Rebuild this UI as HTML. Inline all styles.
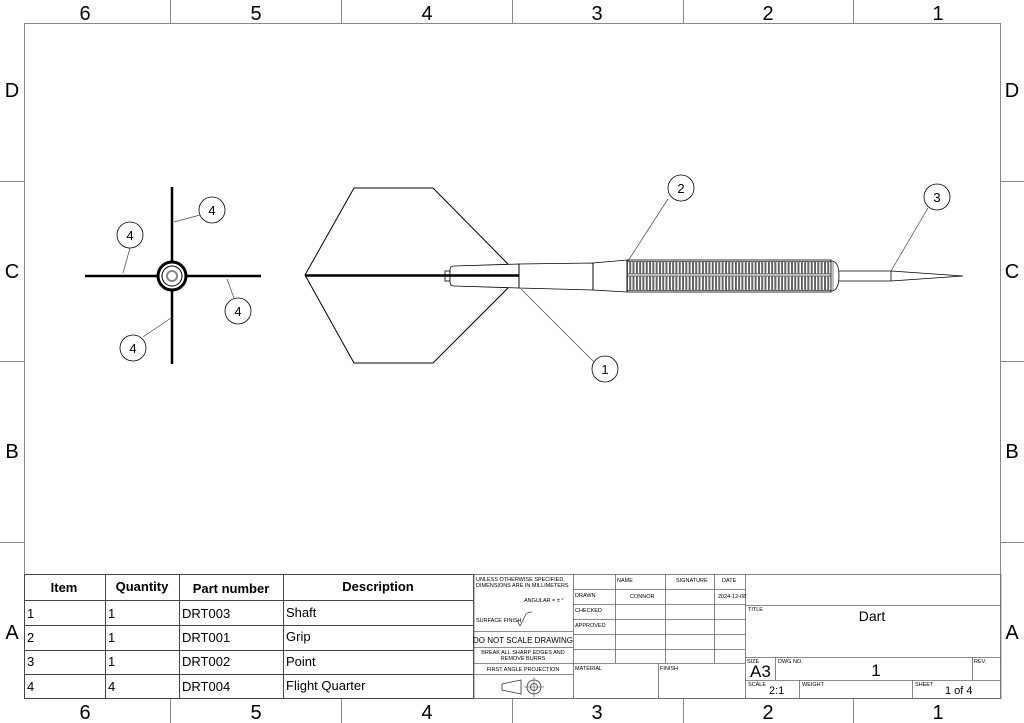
<!DOCTYPE html>
<html><head><meta charset="utf-8"><style>
body{margin:0;background:#fff}
svg{display:block}
text{font-family:"Liberation Sans",sans-serif;fill:#000}
</style></head><body>
<svg width="1024" height="723" viewBox="0 0 1024 723" xmlns="http://www.w3.org/2000/svg">
<defs>
<pattern id="kn" x="627" y="260" width="3.3" height="32" patternUnits="userSpaceOnUse">
<rect x="0.4" y="1.5" width="2.3" height="12.5" fill="none" stroke="#222" stroke-width="0.7"/>
<rect x="0.4" y="16" width="2.3" height="14.5" fill="none" stroke="#222" stroke-width="0.7"/>
</pattern>
</defs>
<g stroke="#888" stroke-width="1" fill="none">
<rect x="24.5" y="23.5" width="976" height="675"/>
<line x1="170.5" y1="0" x2="170.5" y2="23"/><line x1="341.5" y1="0" x2="341.5" y2="23"/><line x1="512.5" y1="0" x2="512.5" y2="23"/><line x1="683.5" y1="0" x2="683.5" y2="23"/><line x1="853.5" y1="0" x2="853.5" y2="23"/>
<line x1="170.5" y1="699" x2="170.5" y2="723"/><line x1="341.5" y1="699" x2="341.5" y2="723"/><line x1="512.5" y1="699" x2="512.5" y2="723"/><line x1="683.5" y1="699" x2="683.5" y2="723"/><line x1="853.5" y1="699" x2="853.5" y2="723"/>
<line x1="0" y1="181.5" x2="24" y2="181.5"/><line x1="0" y1="361.5" x2="24" y2="361.5"/><line x1="0" y1="542.5" x2="24" y2="542.5"/>
<line x1="1001" y1="181.5" x2="1024" y2="181.5"/><line x1="1001" y1="361.5" x2="1024" y2="361.5"/><line x1="1001" y1="542.5" x2="1024" y2="542.5"/>
</g>
<g font-size="20" text-anchor="middle">
<text x="85" y="20">6</text><text x="256" y="20">5</text><text x="427" y="20">4</text><text x="597" y="20">3</text><text x="768" y="20">2</text><text x="938" y="20">1</text>
<text x="85" y="719">6</text><text x="256" y="719">5</text><text x="427" y="719">4</text><text x="597" y="719">3</text><text x="768" y="719">2</text><text x="938" y="719">1</text>
<text x="12" y="97">D</text><text x="12" y="278">C</text><text x="12" y="458">B</text><text x="12" y="639">A</text>
<text x="1012" y="97">D</text><text x="1012" y="278">C</text><text x="1012" y="458">B</text><text x="1012" y="639">A</text>
</g>

<g stroke="#000" fill="none">
<line x1="172" y1="187" x2="172" y2="364" stroke-width="2.5"/>
<line x1="85" y1="276" x2="261" y2="276" stroke-width="2.5"/>
<circle cx="172" cy="276" r="14" fill="#fff" stroke-width="3"/>
<circle cx="172" cy="276" r="10" stroke-width="1"/>
<circle cx="172" cy="276" r="5" stroke="#888" stroke-width="2"/>
</g>
<g stroke="#444" stroke-width="0.7" fill="none">
<line x1="200" y1="215" x2="174" y2="222"/><line x1="130" y1="248" x2="123" y2="273"/>
<line x1="234" y1="298" x2="227" y2="279"/><line x1="143" y1="337" x2="171" y2="318"/>
<line x1="668" y1="199" x2="628" y2="261"/><line x1="594" y1="362" x2="521" y2="289"/>
<line x1="928" y1="208" x2="891" y2="271"/>
</g>
<g stroke="#000" stroke-width="0.8" fill="#fff">
<circle cx="212" cy="210" r="13"/><circle cx="130" cy="235" r="13"/><circle cx="238" cy="311" r="13"/><circle cx="133" cy="348" r="13"/>
<circle cx="681" cy="188" r="13"/><circle cx="605" cy="369" r="13"/><circle cx="937" cy="197" r="13"/>
</g>
<g font-size="13" text-anchor="middle">
<text x="212" y="215">4</text><text x="130" y="240">4</text><text x="238" y="316">4</text><text x="133" y="353">4</text>
<text x="681" y="193">2</text><text x="605" y="374">1</text><text x="937" y="202">3</text>
</g>

<g stroke="#000" stroke-width="1" fill="none">
<polyline points="509,265 433,188 354,188 305,275 354,363 433,363 509,287"/>
<rect x="445" y="271" width="5" height="10" fill="#fff" stroke-width="0.8"/>
<path d="M454,266 L519,264 L519,288 L454,286 Q450,286 450,282 L450,270 Q450,266 454,266Z" fill="#fff" stroke-width="0.8"/>
<line x1="305" y1="275.5" x2="519" y2="275.5" stroke-width="2.5"/>
<polygon points="519,264 593,263 593,290 519,288" stroke-width="0.8"/>
<polygon points="593,263 627,260 627,292 593,290" stroke-width="0.8"/>
<rect x="627" y="260" width="204" height="32" fill="url(#kn)" stroke-width="0.8"/>
<path d="M831,261 L832,261 Q839,262 839,276 Q839,290 832,291 L831,291" stroke-width="0.8"/>
<line x1="833" y1="262" x2="833" y2="290" stroke-width="0.5"/>
<polyline points="839,271 891,271 963,276 891,281 839,281" stroke-width="0.8"/>
<line x1="891" y1="271" x2="891" y2="281" stroke-width="0.8"/>
</g>

<g stroke="#444" stroke-width="1" fill="none">
<rect x="24.5" y="574.5" width="449" height="124"/>
<line x1="24" y1="600.5" x2="474" y2="600.5"/><line x1="24" y1="625.5" x2="474" y2="625.5"/><line x1="24" y1="650.5" x2="474" y2="650.5"/><line x1="24" y1="674.5" x2="474" y2="674.5"/>
<line x1="105.5" y1="574" x2="105.5" y2="698"/><line x1="179.5" y1="574" x2="179.5" y2="698"/><line x1="283.5" y1="574" x2="283.5" y2="698"/>
</g>
<g font-size="13">
<g font-weight="bold" text-anchor="middle"><text x="64" y="592">Item</text><text x="142" y="591">Quantity</text><text x="231" y="593">Part number</text><text x="378" y="591">Description</text></g>
<text x="27" y="618">1</text><text x="108" y="618">1</text><text x="182" y="618">DRT003</text><text x="286" y="617">Shaft</text>
<text x="27" y="642">2</text><text x="108" y="642">1</text><text x="182" y="642">DRT001</text><text x="286" y="641">Grip</text>
<text x="27" y="666">3</text><text x="108" y="666">1</text><text x="182" y="666">DRT002</text><text x="286" y="666">Point</text>
<text x="27" y="691">4</text><text x="108" y="691">4</text><text x="182" y="691">DRT004</text><text x="286" y="690">Flight Quarter</text>
</g>

<g stroke="#666" stroke-width="0.8" fill="none">
<rect x="474" y="574.5" width="527" height="124"/>
<line x1="573.5" y1="574" x2="573.5" y2="698"/>
<line x1="615.5" y1="574" x2="615.5" y2="663"/><line x1="665.5" y1="574" x2="665.5" y2="663"/><line x1="714.5" y1="574" x2="714.5" y2="663"/>
<line x1="745.5" y1="574" x2="745.5" y2="698"/>
<line x1="573" y1="589.5" x2="745" y2="589.5"/><line x1="573" y1="604.5" x2="745" y2="604.5"/><line x1="573" y1="619.5" x2="745" y2="619.5"/><line x1="573" y1="634.5" x2="745" y2="634.5"/><line x1="573" y1="649.5" x2="745" y2="649.5"/><line x1="573" y1="663.5" x2="745" y2="663.5"/>
<line x1="658.5" y1="663" x2="658.5" y2="698"/>
<line x1="474" y1="631.5" x2="573" y2="631.5"/><line x1="474" y1="647.5" x2="573" y2="647.5"/><line x1="474" y1="663.5" x2="573" y2="663.5"/><line x1="474" y1="674.5" x2="573" y2="674.5"/>
<line x1="745" y1="605.5" x2="1001" y2="605.5"/><line x1="745" y1="657.5" x2="1001" y2="657.5"/><line x1="745" y1="680.5" x2="1001" y2="680.5"/>
<line x1="775.5" y1="657" x2="775.5" y2="680"/><line x1="972.5" y1="657" x2="972.5" y2="680"/>
<line x1="799.5" y1="680" x2="799.5" y2="698"/><line x1="912.5" y1="680" x2="912.5" y2="698"/>
<path d="M517,620 L520,626 L526,614 Q528,612 532,612" stroke="#444"/>
<polygon points="502,684 521,680 521,694 502,690" stroke="#333"/>
<circle cx="534" cy="687" r="7" stroke="#333"/><circle cx="534" cy="687" r="3.5" stroke="#333"/>
<line x1="524" y1="687" x2="544" y2="687" stroke="#333" stroke-width="0.5"/><line x1="534" y1="677" x2="534" y2="697" stroke="#333" stroke-width="0.5"/>
</g>
<g font-size="5.5" fill="#222">
<text x="476" y="581">UNLESS OTHERWISE SPECIFIED,</text>
<text x="476" y="587">DIMENSIONS ARE IN MILLIMETERS</text>
<text x="524" y="602">ANGULAR = ± °</text>
<text x="476" y="622">SURFACE FINISH</text>
<text x="575" y="597">DRAWN</text><text x="575" y="612">CHECKED</text><text x="575" y="627">APPROVED</text>
<text x="617" y="582">NAME</text><text x="676" y="582">SIGNATURE</text><text x="722" y="582">DATE</text>
<text x="630" y="598">CONNOR</text><text x="718" y="598">2024-12-08</text>
<text x="575" y="670">MATERIAL</text><text x="660" y="670">FINISH</text>
<text x="748" y="611">TITLE</text>
<text x="747" y="663">SIZE</text><text x="778" y="663">DWG NO.</text><text x="974" y="663">REV.</text>
<text x="748" y="686">SCALE</text><text x="802" y="686">WEIGHT</text><text x="915" y="686">SHEET</text>
<g text-anchor="middle"><text x="523" y="654">BREAK ALL SHARP EDGES AND</text><text x="523" y="660">REMOVE BURRS</text><text x="523" y="671">FIRST ANGLE PROJECTION</text></g>
</g>
<text x="523" y="643" font-size="8" text-anchor="middle">DO NOT SCALE DRAWING</text>
<text x="872" y="621" font-size="14" text-anchor="middle">Dart</text>
<text x="750" y="677" font-size="17">A3</text>
<text x="876" y="676" font-size="17" text-anchor="middle">1</text>
<text x="769" y="694" font-size="11">2:1</text>
<text x="945" y="694" font-size="11">1 of 4</text>
</svg>
</body></html>
